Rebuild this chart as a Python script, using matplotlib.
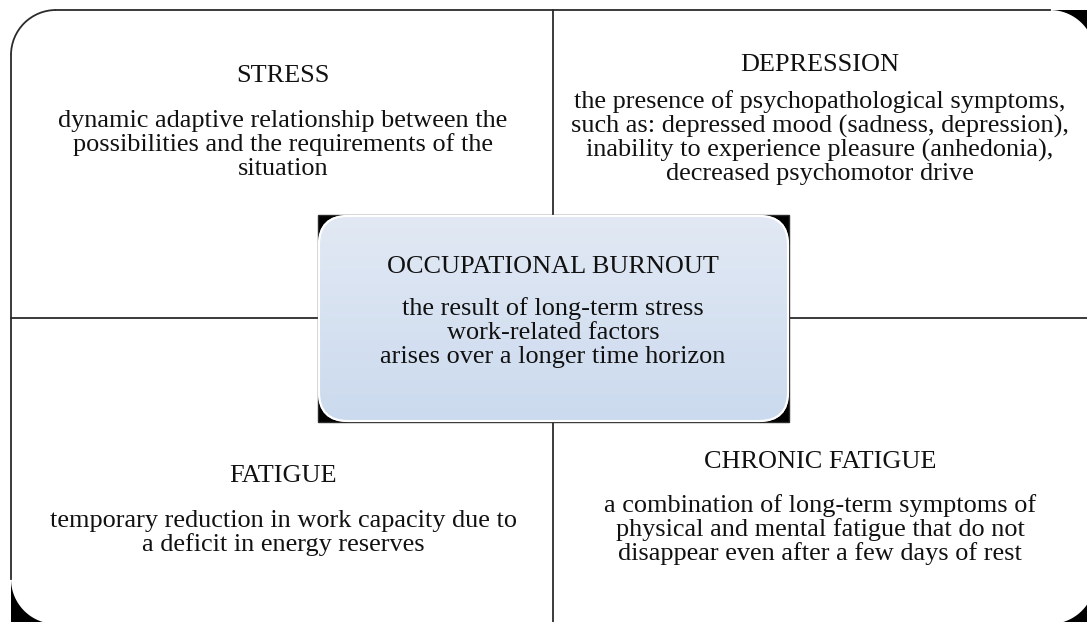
import numpy as np
import matplotlib
matplotlib.use("Agg")
import matplotlib.pyplot as plt
from matplotlib.patches import Rectangle, FancyBboxPatch, Polygon, Arc
from matplotlib.colors import LinearSegmentedColormap

# ---- text content ----
stress_title = "STRESS"
stress_lines = ["dynamic adaptive relationship between the",
                "possibilities and the requirements of the",
                "situation"]
depr_title = "DEPRESSION"
depr_lines = ["the presence of psychopathological symptoms,",
              "such as: depressed mood (sadness, depression),",
              "inability to experience pleasure (anhedonia),",
              "decreased psychomotor drive"]
burn_title = "OCCUPATIONAL BURNOUT"
burn_lines = ["the result of long-term stress",
              "work-related factors",
              "arises over a longer time horizon"]
fat_title = "FATIGUE"
fat_lines = ["temporary reduction in work capacity due to",
             "a deficit in energy reserves"]
chron_title = "CHRONIC FATIGUE"
chron_lines = ["a combination of long-term symptoms of",
               "physical and mental fatigue that do not",
               "disappear even after a few days of rest"]

W, H = 1087, 622
fig = plt.figure(figsize=(W / 100, H / 100), dpi=100)
ax = fig.add_axes([0, 0, 1, 1])
ax.set_xlim(0, W)
ax.set_ylim(H, 0)
ax.axis("off")

LC = "#2b2b2b"
FONT = "Liberation Serif"
FS = 18.9

# outer frame
L, T, R, B, rad = 11, 10, 1095, 624, 45
ax.plot([L + rad, R - rad], [T, T], color=LC, lw=1.3)
ax.plot([L, L], [T + rad, B - rad], color=LC, lw=1.3)
ax.add_patch(Arc((L + rad, T + rad), 2 * rad, 2 * rad, theta1=180, theta2=270, color=LC, lw=1.3))


def wedge(cx, cy, r, sx, sy):
    # black area between the square corner and the rounded arc
    a = np.linspace(0, np.pi / 2, 30)
    ox, oy = cx - sx * r, cy - sy * r
    arc = np.column_stack([ox + sx * r * np.sin(a), oy + sy * r * np.cos(a)])
    pts = np.vstack([[cx, cy], [cx, oy], arc[::-1], [ox, cy]])
    return Polygon(pts, closed=True, color="black", lw=0)


ax.add_patch(wedge(R, T, rad, 1, -1))
ax.add_patch(wedge(L, B, rad, -1, 1))
ax.add_patch(wedge(R, B, rad, 1, 1))

# dividers
MX, MY = 553, 318
ax.plot([MX, MX], [T, H], color=LC, lw=1.3)
ax.plot([L, W], [MY, MY], color=LC, lw=1.3)

# central box
bl, bt, br, bb, brad = 318, 215, 789, 422, 29
ax.add_patch(Rectangle((bl, bt), br - bl, bb - bt, facecolor="black", edgecolor=LC, lw=1.0, zorder=3))
box = FancyBboxPatch((bl + 1, bt + 1), br - bl - 2, bb - bt - 2,
                     boxstyle=f"round,pad=0,rounding_size={brad}",
                     facecolor="#d6e1f1", edgecolor="white", lw=1.5, zorder=4)
ax.add_patch(box)
cmap = LinearSegmentedColormap.from_list("g", ["#e2e9f4", "#cbdaee"])
grad = np.linspace(0, 1, 200).reshape(-1, 1)
im = ax.imshow(grad, cmap=cmap, extent=[bl, br, bb, bt], origin="upper", zorder=5, aspect="auto")
im.set_clip_path(box)
ax.add_patch(FancyBboxPatch((bl + 1, bt + 1), br - bl - 2, bb - bt - 2,
                            boxstyle=f"round,pad=0,rounding_size={brad}",
                            facecolor="none", edgecolor="white", lw=1.5, zorder=6))
ax.set_xlim(0, W)
ax.set_ylim(H, 0)


def block(x, ty, title, lines, ly, step=24):
    ax.text(x, ty, title, ha="center", va="center", fontsize=FS, family=FONT, color="#111111", zorder=7)
    for i, s in enumerate(lines):
        ax.text(x, ly + i * step, s, ha="center", va="center", fontsize=FS, family=FONT,
                color="#111111", zorder=7)


block(283, 76, stress_title, stress_lines, 121)
block(820, 65, depr_title, depr_lines, 102)
block(553, 267, burn_title, burn_lines, 309)
block(283, 476, fat_title, fat_lines, 521)
block(820, 462, chron_title, chron_lines, 506)

fig.savefig("out.png", dpi=100)
